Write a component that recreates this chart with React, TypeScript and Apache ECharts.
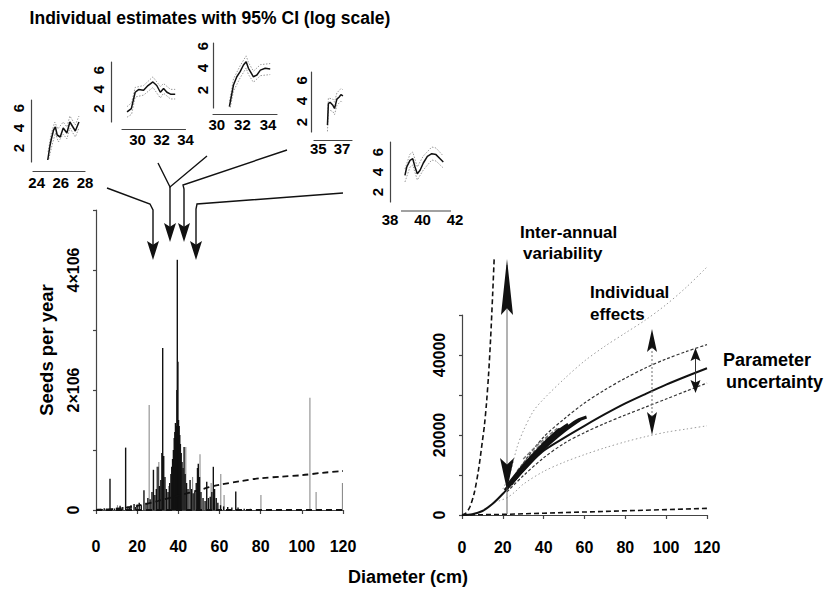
import React, { useEffect, useRef } from "react";
import * as echarts from "echarts";

const FONT = "'Liberation Sans', Arial, Helvetica, sans-serif";

// ---------------- Left panel (diameter cm, seeds per year in millions) ----------------
const seedTickLabels: Record<number, string> = { 0: "0", 2: "2×106", 4: "4×106" };

const blackSpikes: [number, number][] = [
  [1, 0.02], [2, 0.02], [3, 0.015], [4, 0.03], [5, 0.02], [6.8, 0.52], [8, 0.03], [9, 0.025], [10, 0.04], [11.7, 0.07], [13, 0.05], [14.4, 1.04],
  [15.5, 0.06], [16.3, 0.04], [17, 0.08], [18.5, 0.1], [19.3, 0.05], [20, 0.09], [21, 0.12], [22, 0.08], [23.3, 0.33], [24.3, 0.12],
  [25.2, 0.2], [26.3, 0.18], [27.2, 0.3], [27.9, 0.67], [28.6, 0.25], [29.3, 0.35], [30.1, 0.72],
  [30.8, 0.4], [31.5, 0.5], [32, 0.95], [32.4, 2.7], [32.9, 0.9], [33.5, 0.55], [34.2, 0.35], [35, 0.3],
  [35.8, 0.45], [36.4, 0.6], [36.8, 0.72], [37.2, 0.85], [37.6, 1.0], [38, 1.2], [38.3, 1.3], [38.6, 1.45],
  [39, 1.4], [39.3, 2.0], [39.5, 4.17], [39.8, 2.47], [40.1, 1.5], [40.4, 1.4], [40.7, 1.25], [41, 1.1],
  [41.4, 0.95], [41.8, 0.8], [42.3, 0.7], [42.8, 1.05], [43.3, 0.6], [44, 0.45], [44.7, 0.35], [45.7, 0.5],
  [46.4, 0.35], [47.2, 0.28], [48, 0.3], [48.7, 0.45], [49.3, 0.7], [49.7, 0.77], [50.3, 0.55], [51, 0.3],
  [52, 0.2], [53, 0.15], [53.8, 0.47], [54.6, 0.2], [55.5, 0.22], [56.3, 0.3], [57, 0.72], [57.6, 0.35],
  [58.4, 0.2], [59.2, 0.12], [60.5, 0.08], [62, 0.06], [64, 0.05], [66, 0.04], [67.9, 0.31], [69, 0.04],
  [72, 0.02], [75, 0.02], [78, 0.015],
];

const graySpikes: [number, number][] = [
  [10.5, 0.08], [25.9, 1.75], [29.6, 0.72], [30.6, 0.8], [35.4, 0.4], [43.7, 1.05], [47, 0.55],
  [50.6, 0.93], [56, 0.45], [60.7, 0.6], [62.3, 0.25], [80.2, 0.25], [104, 1.87], [107, 0.3], [119.8, 0.45],
];

const leftUpperDashed: [number, number][] = [
  [0, 0], [10, 0.02], [20, 0.07], [30, 0.15], [40, 0.24], [50, 0.33], [55, 0.38], [60, 0.42],
  [70, 0.48], [80, 0.53], [90, 0.555], [100, 0.58], [110, 0.62], [120, 0.65],
];
const leftLowerDashed: [number, number][] = [[0, 0], [40, 0.0005], [80, 0.001], [120, 0.0017]];

// ---------------- Right panel (diameter cm, seeds per year) ----------------
const rightTickLabels: Record<number, string> = { 0: "0", 20000: "20000", 40000: "40000" };

const meanCurve: [number, number][] = [
  [0, 0], [5, 200], [10, 1000], [15, 2800], [20, 5300], [25, 8200], [30, 11200], [35, 13800],
  [40, 16100], [50, 19300], [60, 22300], [70, 25200], [80, 27900], [90, 30300], [100, 32600],
  [110, 34700], [120, 36700],
];
const paramUpper: [number, number][] = [
  [22, 6800], [30, 13000], [40, 19500], [50, 24000], [60, 28000], [70, 31300], [80, 34200],
  [90, 36800], [100, 39000], [110, 40900], [120, 42600],
];
const paramLower: [number, number][] = [
  [22, 5800], [30, 9800], [40, 14300], [50, 17900], [60, 20600], [70, 22900], [80, 25000],
  [90, 27000], [100, 29000], [110, 31000], [120, 33000],
];
const indivUpper: [number, number][] = [
  [20, 6500], [23.5, 10400], [27, 17000], [30, 21000], [35, 26000], [40, 29000], [50, 34000],
  [60, 38500], [70, 42200], [80, 45500], [90, 48800], [100, 52600], [110, 57000], [120, 62000],
];
const indivLower: [number, number][] = [
  [18, 3500], [22, 4300], [26, 5800], [30, 7700], [40, 10900], [50, 13200], [60, 15100], [70, 16800],
  [80, 18300], [90, 19600], [100, 20700], [110, 21500], [120, 22300],
];
const interAnnualUpper: [number, number][] = [
  [0, 0], [2, 500], [4, 2200], [6, 5500], [8, 11000], [10, 18500], [11, 22500], [12, 28000],
  [13, 35000], [14, 44000], [15, 55000], [16, 67000],
];
const interAnnualLower: [number, number][] = [
  [0, 0], [20, 150], [40, 450], [60, 750], [80, 1050], [100, 1350], [120, 1650],
];
const fitsBlack: [number, number][][] = [
  [[21, 6200], [30, 11200], [40, 16600], [50, 21000], [58, 23900]],
  [[22, 7200], [30, 12300], [40, 17800], [48, 21500]],
  [[24, 7600], [32, 12600], [42, 18000], [55, 23200], [61, 24500]],
  [[26, 9200], [35, 14600], [45, 20100], [52, 22700]],
];
const fitsGray: [number, number][][] = [
  [[27, 11000], [35, 15800], [43, 19800]],
  [[30, 14000], [38, 18000], [47, 21800]],
];

// ---------------- Insets (diameter cm, log seeds) ----------------
const inset1Est: [number, number][] = [
  [24.92, 0.8], [25.1, 2.2], [25.2, 2.8], [25.4, 3.8], [25.55, 4.1], [25.7, 3.3], [25.95, 3.1],
  [26.2, 4.0], [26.5, 3.5], [26.75, 4.6], [27.0, 4.1], [27.2, 3.7], [27.5, 4.6],
];
const inset1Up: [number, number][] = [
  [24.95, 1.6], [25.2, 3.4], [25.5, 4.6], [25.75, 3.9], [26.2, 4.6], [26.5, 4.1], [26.75, 5.2], [27.2, 4.3], [27.5, 5.2],
];
const inset1Lo: [number, number][] = [
  [25.0, 0.9], [25.3, 2.4], [25.55, 3.5], [25.8, 2.6], [26.2, 3.4], [26.5, 2.9], [26.75, 4.0], [27.2, 3.1], [27.5, 4.0],
];
const inset2Est: [number, number][] = [
  [29.12, 1.65], [29.48, 2.0], [29.8, 3.7], [30.08, 3.98], [30.5, 3.9], [30.87, 4.4], [31.28, 4.77],
  [31.6, 4.4], [31.9, 3.7], [32.17, 4.1], [32.45, 3.7], [32.75, 3.5], [33.14, 3.5],
];
const inset2Up: [number, number][] = [
  [29.12, 2.2], [29.5, 2.6], [29.8, 4.2], [30.5, 4.4], [31.28, 5.3], [31.9, 4.3], [32.17, 4.6], [32.75, 4.0], [33.14, 4.0],
];
const inset2Lo: [number, number][] = [
  [29.12, 1.1], [29.5, 1.4], [29.8, 3.2], [30.5, 3.4], [31.28, 4.2], [31.9, 3.1], [32.17, 3.6], [32.75, 3.0], [33.14, 3.0],
];
const inset3Est: [number, number][] = [
  [30.98, 0.48], [31.3, 2.45], [31.56, 3.2], [31.82, 3.66], [32.08, 4.27], [32.29, 4.57], [32.47, 3.97],
  [32.86, 3.2], [33.13, 3.36], [33.4, 3.8], [33.78, 3.97], [34.17, 3.9],
];
const inset3Up: [number, number][] = [
  [31.0, 1.0], [31.3, 3.0], [31.82, 4.2], [32.29, 5.1], [32.47, 4.5], [32.86, 3.7], [33.4, 4.3], [34.17, 4.4],
];
const inset3Lo: [number, number][] = [
  [31.05, 0.4], [31.3, 1.9], [31.82, 3.1], [32.29, 4.0], [32.47, 3.4], [32.86, 2.7], [33.4, 3.3], [34.17, 3.4],
];
const inset4Est: [number, number][] = [
  [35.77, 1.7], [35.85, 3.77], [35.99, 3.9], [36.23, 3.6], [36.37, 3.3], [36.57, 4.2], [36.77, 4.4], [36.91, 4.63], [37.08, 4.5],
];
const inset4Up: [number, number][] = [
  [35.77, 2.4], [35.85, 4.3], [36.23, 4.2], [36.37, 3.9], [36.57, 4.8], [36.91, 5.2], [37.08, 5.1],
];
const inset4Lo: [number, number][] = [
  [35.77, 1.1], [35.85, 3.2], [36.23, 3.0], [36.37, 2.7], [36.57, 3.6], [36.91, 4.0], [37.08, 3.9],
];
const inset5Est: [number, number][] = [
  [38.92, 3.67], [39.03, 4.5], [39.23, 5.17], [39.4, 5.33], [39.54, 4.5], [39.68, 3.83], [39.85, 4.17],
  [40.05, 4.9], [40.3, 5.57], [40.57, 5.83], [40.83, 5.74], [41.08, 5.33], [41.28, 5.0],
];
const inset5Up: [number, number][] = [
  [38.92, 4.3], [39.23, 5.8], [39.4, 6.0], [39.68, 4.5], [40.05, 5.6], [40.57, 6.5], [40.83, 6.4], [41.28, 5.6],
];
const inset5Lo: [number, number][] = [
  [38.92, 3.0], [39.23, 4.5], [39.4, 4.7], [39.68, 3.2], [40.05, 4.2], [40.57, 5.2], [40.83, 5.1], [41.28, 4.4],
];
const insetYTicks = [2, 4, 6];
const inset1XTicks = [24, 26, 28];
const inset2XTicks = [30, 32, 34];
const inset3XTicks = [30, 32, 34];
const inset4XTicks = [35, 37];
const inset5XTicks = [38, 40, 42];

// layout of insets (pixels) kept apart from the data
const insetLayouts = [
  { left: 33, top: 100, width: 52, height: 62, xMin: 23.7, xMax: 28, yMin: 0.6, yMax: 6.8, xOffset: 9, yOffset: 2, xMargin: 4, yMargin: 5, hideXLine: false },
  { left: 122, top: 62, width: 63.5, height: 60, xMin: 28.7, xMax: 34, yMin: 0.6, yMax: 6.85, xOffset: 7.5, yOffset: 11, xMargin: 2, yMargin: 5, hideXLine: false },
  { left: 213, top: 43, width: 64, height: 65, xMin: 29.7, xMax: 34.7, yMin: 0.36, yMax: 6.27, xOffset: 6.5, yOffset: 0, xMargin: 2, yMargin: 3, hideXLine: false },
  { left: 314, top: 72, width: 38, height: 60, xMin: 34.63, xMax: 37.85, yMin: 1.04, yMax: 6.8, xOffset: 8, yOffset: 2.3, xMargin: 1, yMargin: 2.5, hideXLine: false },
  { left: 390, top: 142, width: 65, height: 60, xMin: 38, xMax: 42, yMin: 1, yMax: 7, xOffset: 9, yOffset: 0, xMargin: 1, yMargin: 5, hideXLine: true },
];
const insetData = [
  { est: inset1Est, up: inset1Up, lo: inset1Lo, xTicks: inset1XTicks },
  { est: inset2Est, up: inset2Up, lo: inset2Lo, xTicks: inset2XTicks },
  { est: inset3Est, up: inset3Up, lo: inset3Lo, xTicks: inset3XTicks },
  { est: inset4Est, up: inset4Up, lo: inset4Lo, xTicks: inset4XTicks },
  { est: inset5Est, up: inset5Up, lo: inset5Lo, xTicks: inset5XTicks },
];

const labelStyle = { color: "#000", fontFamily: FONT, fontWeight: "bold" as const, fontSize: 16 };
const insetLabelStyle = { ...labelStyle, fontSize: 15 };
const axisLineStyle = { color: "#444", width: 1.2 };

function head(x: number, tipY: number, baseY: number, w: number, notch = 0.2) {
  return {
    type: "polygon",
    z: 100,
    shape: { points: [[x, tipY], [x - w, baseY], [x, baseY + (tipY - baseY) * notch], [x + w, baseY]] },
    style: { fill: "#111" },
  };
}
function poly(points: number[][], stroke = "#111", lineWidth = 1.4, lineDash: number[] | null = null) {
  return {
    type: "polyline",
    z: 99,
    shape: { points },
    style: { stroke, lineWidth, fill: null, lineDash },
  };
}
function txt(text: string, x: number, y: number, size: number, align = "left", rotation = 0) {
  return {
    type: "text",
    x,
    y,
    rotation,
    z: 101,
    style: { text, fill: "#000", font: `bold ${size}px ${FONT}`, align, verticalAlign: "middle" },
  };
}

function lineSeries(data: [number, number][], xi: number, yi: number, color: string, width: number, type: any, smooth: number | boolean = 0.3) {
  return {
    type: "line",
    xAxisIndex: xi,
    yAxisIndex: yi,
    data,
    showSymbol: false,
    smooth,
    silent: true,
    lineStyle: { color, width, type },
  };
}

function buildOption() {
  const grids: any[] = [
    { left: 96, top: 210, width: 247, height: 300 },
    { left: 462, top: 259, width: 245, height: 256 },
    { left: 462, top: 315, width: 245, height: 200 },
    ...insetLayouts.map((l) => ({ left: l.left, top: l.top, width: l.width, height: l.height })),
  ];
  const xAxes: any[] = [
    {
      gridIndex: 0, type: "value", min: 0, max: 120, interval: 20, offset: 16,
      axisLine: { show: true, lineStyle: axisLineStyle }, axisTick: { show: true, length: 4, lineStyle: axisLineStyle },
      axisLabel: { ...labelStyle, margin: 12 }, splitLine: { show: false },
    },
    {
      gridIndex: 1, type: "value", min: 0, max: 120, interval: 20, offset: 13,
      axisLine: { show: true, lineStyle: axisLineStyle }, axisTick: { show: true, length: 4, lineStyle: axisLineStyle },
      axisLabel: { ...labelStyle, margin: 11 }, splitLine: { show: false },
    },
    { gridIndex: 2, type: "value", min: 0, max: 120, show: false },
    ...insetLayouts.map((l, i) => ({
      gridIndex: 3 + i, type: "value", min: l.xMin, max: l.xMax, offset: l.xOffset,
      axisLine: { show: !l.hideXLine, lineStyle: axisLineStyle }, axisTick: { show: false },
      axisLabel: { ...insetLabelStyle, margin: l.xMargin, customValues: insetData[i].xTicks, showMinLabel: true, showMaxLabel: true },
      splitLine: { show: false },
    })),
  ];
  const yAxes: any[] = [
    {
      gridIndex: 0, type: "value", min: 0, max: 5, interval: 1, offset: 9,
      axisLine: { show: true, lineStyle: axisLineStyle }, axisTick: { show: true, length: 3, lineStyle: axisLineStyle },
      axisLabel: { ...labelStyle, rotate: 90, margin: 6, formatter: (v: number) => seedTickLabels[v] ?? "" },
      splitLine: { show: false },
    },
    { gridIndex: 1, type: "value", min: 0, max: 64000, show: false },
    {
      gridIndex: 2, type: "value", min: 0, max: 50000, interval: 10000, offset: 9,
      axisLine: { show: true, lineStyle: axisLineStyle }, axisTick: { show: true, length: 3, lineStyle: axisLineStyle },
      axisLabel: { ...labelStyle, rotate: 90, margin: 6, formatter: (v: number) => rightTickLabels[v] ?? "" },
      splitLine: { show: false },
    },
    ...insetLayouts.map((l, i) => ({
      gridIndex: 3 + i, type: "value", min: l.yMin, max: l.yMax, offset: l.yOffset,
      axisLine: { show: true, lineStyle: axisLineStyle }, axisTick: { show: false },
      axisLabel: { ...insetLabelStyle, rotate: 90, margin: l.yMargin, customValues: insetYTicks },
      splitLine: { show: false },
    })),
  ];

  const series: any[] = [
    {
      type: "bar", xAxisIndex: 0, yAxisIndex: 0, data: graySpikes, barWidth: 1.1, barGap: "-100%",
      itemStyle: { color: "#8c8c8c" }, silent: true,
    },
    {
      type: "bar", xAxisIndex: 0, yAxisIndex: 0, data: blackSpikes, barWidth: 1.4, barGap: "-100%",
      itemStyle: { color: "#111" }, silent: true,
    },
    lineSeries(leftUpperDashed, 0, 0, "#111", 1.8, [6, 4]),
    lineSeries(leftLowerDashed, 0, 0, "#111", 2, [6, 4], false),
    // right panel
    lineSeries(indivUpper, 1, 1, "#9a9a9a", 1, [1.5, 2.5]),
    lineSeries(indivLower, 1, 1, "#9a9a9a", 1, [1.5, 2.5]),
    lineSeries(paramUpper, 1, 1, "#333", 1.2, [3, 2]),
    lineSeries(paramLower, 1, 1, "#333", 1.2, [3, 2]),
    lineSeries(interAnnualUpper, 1, 1, "#111", 1.6, [5, 3]),
    lineSeries(interAnnualLower, 1, 1, "#111", 1.6, [5, 3], false),
    ...fitsGray.map((f) => lineSeries(f, 1, 1, "#777", 1.5, [4, 2])),
    ...fitsBlack.map((f) => lineSeries(f, 1, 1, "#111", 3, "solid")),
    lineSeries(meanCurve, 1, 1, "#111", 2, "solid"),
  ];
  insetData.forEach((d, i) => {
    series.push(lineSeries(d.up, 3 + i, 3 + i, "#9a9a9a", 1, [1.5, 1.5], false));
    series.push(lineSeries(d.lo, 3 + i, 3 + i, "#9a9a9a", 1, [1.5, 1.5], false));
    series.push(lineSeries(d.est, 3 + i, 3 + i, "#111", 1.5, "solid", false));
  });

  const graphic: any[] = [
    txt("Individual estimates with 95% CI (log scale)", 210, 18, 17.5, "center"),
    txt("Seeds per year", 46, 350, 18.5, "center", Math.PI / 2),
    txt("Diameter (cm)", 408, 577, 18, "center"),
    txt("Inter-annual", 520, 232, 17),
    txt("variability", 523, 253, 17),
    txt("Individual", 590, 292, 17),
    txt("effects", 590, 314, 17),
    txt("Parameter", 723, 360, 18),
    txt("uncertainty", 726, 382, 18),
    // inset 5 x axis line
    poly([[401, 211], [451, 211]], "#444", 1.2),
    // connectors from insets to the left panel
    poly([[107, 188], [150, 204], [153, 210], [153, 250]]),
    head(153, 260, 241, 6),
    poly([[158, 163], [170, 187], [207, 156]]),
    poly([[170, 187], [170, 235]]),
    head(170, 242, 223, 6),
    poly([[287, 150], [183, 185], [184, 189], [184, 235]]),
    head(184, 242, 223, 6),
    poly([[343, 193], [197, 204], [196, 209], [196, 250]]),
    head(196, 260, 241, 6),
    // inter-annual variability arrow
    poly([[507, 265], [507, 514]], "#666", 1),
    head(507, 259, 315, 6, 0.12),
    head(507, 490, 458, 7, 0.2),
    // individual effects arrow
    poly([[652, 335], [652, 430]], "#888", 1.2, [2, 2]),
    head(652, 329, 352, 5, 0.2),
    head(652, 435, 412, 5, 0.2),
    // parameter uncertainty arrow
    poly([[695.5, 352], [695.5, 390]], "#333", 1),
    head(695.5, 348, 361, 5, 0.2),
    head(695.5, 393, 380, 5, 0.2),
  ];

  return {
    animation: false,
    backgroundColor: "#fff",
    grid: grids,
    xAxis: xAxes,
    yAxis: yAxes,
    series,
    graphic,
  };
}

export default function App() {
  const ref = useRef<HTMLDivElement>(null);
  useEffect(() => {
    const chart = echarts.init(ref.current!, null, { renderer: "svg" });
    chart.setOption(buildOption() as any);
    return () => chart.dispose();
  }, []);
  return (
    <div
      ref={ref}
      style={{ position: "absolute", left: 0, top: 0, width: 836, height: 590, background: "#fff" }}
    />
  );
}
